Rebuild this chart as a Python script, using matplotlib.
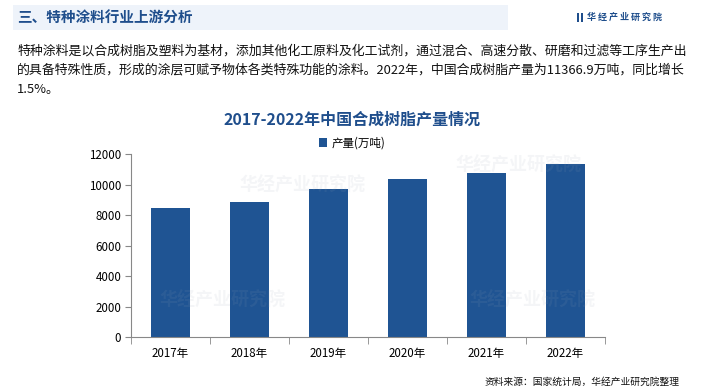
import matplotlib
matplotlib.use("Agg")
import matplotlib.pyplot as plt
from matplotlib.patches import Rectangle

plt.rcParams['font.family'] = ['Noto Sans CJK SC', 'DejaVu Sans']

# ========== DATA ==========
years = ["2017年", "2018年", "2019年", "2020年", "2021年", "2022年"]
output = [8459, 8852, 9705, 10360, 10754, 11366.9]   # 产量(万吨)
y_ticks = [0, 2000, 4000, 6000, 8000, 10000, 12000]

header = "三、特种涂料行业上游分析"
para = ["特种涂料是以合成树脂及塑料为基材，添加其他化工原料及化工试剂，通过混合、高速分散、研磨和过滤等工序生产出",
        "的具备特殊性质，形成的涂层可赋予物体各类特殊功能的涂料。2022年，中国合成树脂产量为11366.9万吨，同比增长",
        "1.5%。"]
chart_title = "2017-2022年中国合成树脂产量情况"
legend_label = "产量(万吨)"
source = "资料来源：国家统计局，华经产业研究院整理"

W, H = 704, 392
bar_color = "#1F5493"
dark_blue = "#1F4E8C"

fig = plt.figure(figsize=(W / 100, H / 100), dpi=100)

def px(x, y):
    return x / W, 1 - y / H

# ---- header band ----
fig.patches.append(Rectangle(px(13, 30), 495 / W, 25 / H, transform=fig.transFigure,
                             facecolor="#EEF3FA", edgecolor="none", zorder=0))
fig.text(*px(17, 18), header, fontsize=10.5, fontweight="bold", color=dark_blue, va="center")
fig.patches.append(Rectangle(px(577, 22), 2 / W, 9 / H, transform=fig.transFigure,
                             facecolor=dark_blue, edgecolor="none"))
fig.patches.append(Rectangle(px(581, 22), 2 / W, 9 / H, transform=fig.transFigure,
                             facecolor=dark_blue, edgecolor="none"))
fig.text(*px(587, 17), "华 经 产 业 研 究 院", fontsize=6.5, fontweight="bold",
         color=dark_blue, va="center")

# ---- paragraph ----
for i, line in enumerate(para):
    fig.text(*px(17, 51 + i * 19), line, fontsize=9.3, color="#111111", va="center")

# ---- faint watermarks (inside the plot area only) ----
for (wx, wy) in [(240, 185), (455, 165), (470, 300), (160, 300)]:
    fig.text(*px(wx, wy), "华经产业研究院", fontsize=13, fontweight="bold",
             color="#9aa5b5", alpha=0.1, va="center", zorder=0)

# ---- chart ----
ax = fig.add_axes([131 / W, (H - 337) / H, (605 - 131) / W, (337 - 154) / H])
ax.bar(range(len(years)), output, width=0.5, color=bar_color, label=legend_label, zorder=2)
ax.set_xlim(-0.5, len(years) - 0.5)
ax.set_ylim(0, 12000)
ax.set_yticks(y_ticks)
ax.set_xticks(range(len(years)))
ax.set_xticklabels(years)
ax.set_xticks([i - 0.5 for i in range(len(years) + 1)], minor=True)
ax.tick_params(axis="x", which="major", length=0, labelsize=8.3, pad=7)
ax.tick_params(axis="x", which="minor", length=5, color="#888888", direction="out")
ax.tick_params(axis="y", length=4, color="#888888", labelsize=8.3, pad=3)
for s in ["top", "right"]:
    ax.spines[s].set_visible(False)
for s in ["left", "bottom"]:
    ax.spines[s].set_color("#888888")
ax.patch.set_alpha(0)

fig.text(*px(352, 120), chart_title, fontsize=11.5, fontweight="bold",
         color=dark_blue, ha="center", va="center")
fig.legend(loc="center", bbox_to_anchor=px(352, 143), frameon=False, fontsize=8.3,
           handlelength=0.7, handleheight=0.7, handletextpad=0.4)

fig.text(*px(680, 382), source, fontsize=7, color="#111111", ha="right", va="center")

fig.savefig("out.png", dpi=100)
